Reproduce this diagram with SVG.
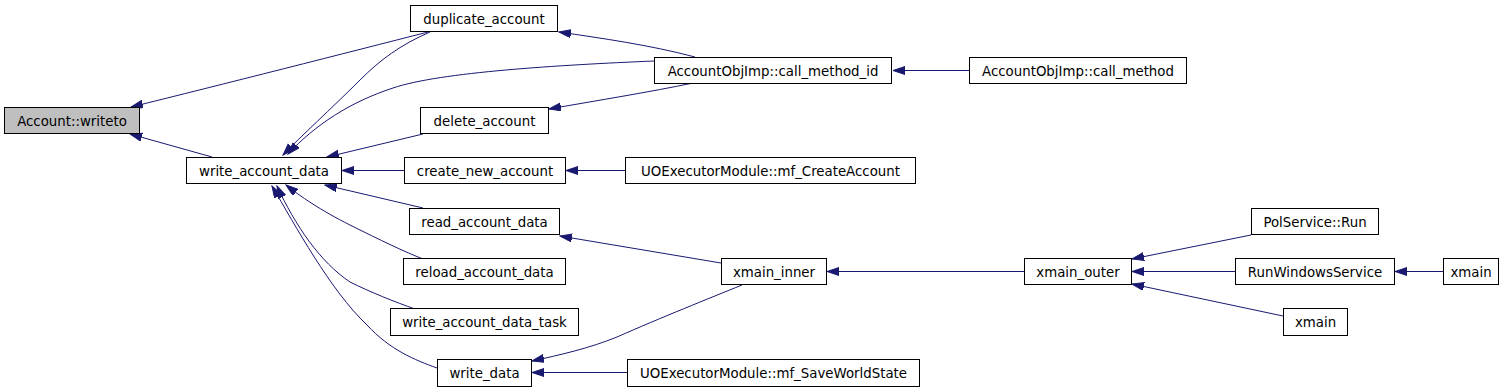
<svg xmlns="http://www.w3.org/2000/svg" width="1512" height="392" viewBox="0 0 1512 392">
<style>
.n rect{fill:#ffffff;stroke:#000000;stroke-width:1}
.n.hl rect{fill:#bfbfbf}
.n text{font-family:"DejaVu Sans",sans-serif;font-size:13.33px;fill:#000000;text-anchor:middle}
.e path{fill:none;stroke:#191970;stroke-width:1;marker-end:url(#arr)}
</style>
<defs>
<marker id="arr" markerUnits="userSpaceOnUse" markerWidth="13" markerHeight="9" refX="12" refY="4" orient="auto">
<path d="M0,0 L12,4 L0,8 z" fill="#191970" stroke="#191970" stroke-width="1"/>
</marker>
</defs>
<rect width="1512" height="392" fill="#ffffff"/>
<g id="edges" class="e">
<path d="M428,32 C350,52 220,85 131,107"/>
<path d="M212,157 L130,134"/>
<path d="M430,32 C400,45 380,60 360,80 C330,110 302,135 283,155"/>
<path d="M654,61 C560,65 440,72 393,88 C350,102 315,125 288,154"/>
<path d="M695,57 C650,45 600,38 559,32"/>
<path d="M693,83 C650,92 600,100 549,109"/>
<path d="M969,70.5 L893,70.5"/>
<path d="M423,134 L327,157"/>
<path d="M404,170.5 L342,170.5"/>
<path d="M625,170.5 L566,170.5"/>
<path d="M423,208 L325,185"/>
<path d="M423,259 C405,252 380,240 350,225 C320,210 300,196 286,185"/>
<path d="M415,309 C395,302 370,292 350,282 C320,262 295,225 277,186"/>
<path d="M437,368 C415,360 390,350 367,325 C330,290 295,225 272,186"/>
<path d="M721,263 L560,236"/>
<path d="M742,285 C710,298 660,318 617,337 C590,348 560,355 532,361"/>
<path d="M627,372.5 L532,372.5"/>
<path d="M1024,271.5 L827,271.5"/>
<path d="M1251,235 L1132,259"/>
<path d="M1235,271.5 L1132,271.5"/>
<path d="M1283,316 L1132,284"/>
<path d="M1443,271.5 L1395,271.5"/>
</g>
<g id="n_account_writeto" class="n hl"><rect x="4.5" y="107.5" width="135" height="26"/><text x="72" y="125.5">Account::writeto</text></g>
<g id="n_write_account_data" class="n"><rect x="186.5" y="157.5" width="155" height="26"/><text x="264" y="175.5">write_account_data</text></g>
<g id="n_duplicate_account" class="n"><rect x="410.5" y="5.5" width="147" height="26"/><text x="484" y="23.5">duplicate_account</text></g>
<g id="n_call_method_id" class="n"><rect x="654.5" y="57.5" width="237" height="26"/><text x="773" y="75.5">AccountObjImp::call_method_id</text></g>
<g id="n_call_method" class="n"><rect x="969.5" y="57.5" width="217" height="26"/><text x="1078" y="75.5">AccountObjImp::call_method</text></g>
<g id="n_delete_account" class="n"><rect x="420.5" y="107.5" width="128" height="26"/><text x="484.5" y="125.5">delete_account</text></g>
<g id="n_create_new_account" class="n"><rect x="404.5" y="157.5" width="161" height="26"/><text x="485" y="175.5">create_new_account</text></g>
<g id="n_mf_createaccount" class="n"><rect x="625.5" y="157.5" width="290" height="26"/><text x="770.5" y="175.5">UOExecutorModule::mf_CreateAccount</text></g>
<g id="n_read_account_data" class="n"><rect x="409.5" y="208.5" width="150" height="26"/><text x="484.5" y="226.5">read_account_data</text></g>
<g id="n_reload_account_data" class="n"><rect x="403.5" y="258.5" width="162" height="26"/><text x="484.5" y="276.5">reload_account_data</text></g>
<g id="n_write_account_data_task" class="n"><rect x="390.5" y="308.5" width="188" height="27"/><text x="484.5" y="327">write_account_data_task</text></g>
<g id="n_write_data" class="n"><rect x="437.5" y="359.5" width="94" height="27"/><text x="484.5" y="378">write_data</text></g>
<g id="n_xmain_inner" class="n"><rect x="721.5" y="258.5" width="105" height="26"/><text x="774" y="276.5">xmain_inner</text></g>
<g id="n_mf_saveworldstate" class="n"><rect x="627.5" y="359.5" width="292" height="27"/><text x="773.5" y="378">UOExecutorModule::mf_SaveWorldState</text></g>
<g id="n_xmain_outer" class="n"><rect x="1024.5" y="258.5" width="107" height="26"/><text x="1078" y="276.5">xmain_outer</text></g>
<g id="n_polservice_run" class="n"><rect x="1251.5" y="208.5" width="127" height="26"/><text x="1315" y="226.5">PolService::Run</text></g>
<g id="n_runwindowsservice" class="n"><rect x="1235.5" y="258.5" width="159" height="26"/><text x="1315" y="276.5">RunWindowsService</text></g>
<g id="n_xmain_right" class="n"><rect x="1443.5" y="258.5" width="55" height="26"/><text x="1471" y="276.5">xmain</text></g>
<g id="n_xmain_lower" class="n"><rect x="1283.5" y="308.5" width="64" height="27"/><text x="1315.5" y="327">xmain</text></g>
</svg>
